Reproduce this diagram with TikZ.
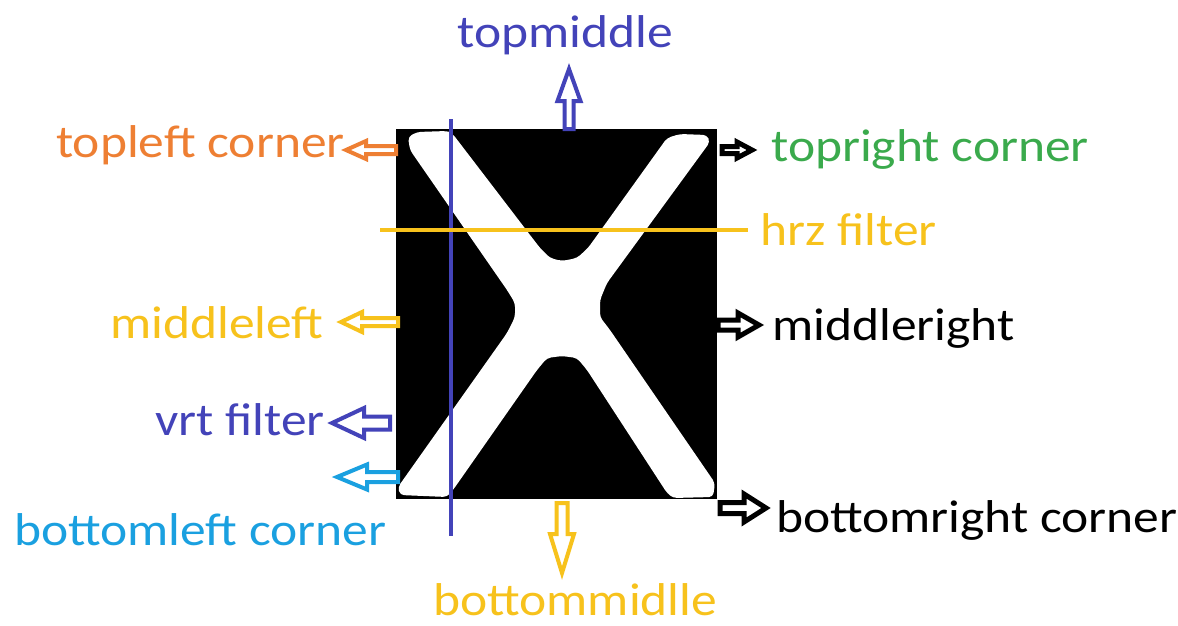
\documentclass[tikz,border=0pt]{standalone}
\usepackage{graphicx}
\usepackage{fontspec}
\setmainfont{Carlito}
\definecolor{cblue}{HTML}{4343B9}
\definecolor{corange}{HTML}{EE7F33}
\definecolor{cgreen}{HTML}{3AAA4C}
\definecolor{cyellow}{HTML}{F7C21C}
\definecolor{ccyan}{HTML}{1AA0E0}
\newcommand{\barr}[8]{%
\draw[#1, line width=#2, fill=white, line join=miter, shift={(#3)}, rotate=#4]
 (0,-#8) -- ({#5-#6},-#8) -- ({#5-#6},-#7) -- (#5,0) -- ({#5-#6},#7) -- ({#5-#6},#8) -- (0,#8) -- cycle;}
\newcommand{\wtxt}[1]{\scalebox{1.12}[1]{#1}}
\begin{document}
\begin{tikzpicture}[x=1pt,y=-1pt,
  lbl/.style={anchor=base west, inner sep=0pt, font=\fontsize{46}{50}\selectfont}]
\useasboundingbox[fill=white] (0,0) rectangle (1178,626);
% image
\fill[black] (396,129) rectangle (717,499);
\fill[white, rounded corners=4pt]
 (408,137) -- (417,132) -- (447,131) -- (452,133) -- (540,248) -- (550,258) -- (562,261)
 -- (577,258) -- (588,248) -- (667,138) -- (680,134) -- (707,135) -- (710,142)
 -- (607,283) -- (600,300) -- (600,317) -- (610,330) -- (715,483) -- (713,497)
 -- (673,498) -- (667,493) -- (587,370) -- (577,358) -- (562,356) -- (547,358)
 -- (537,370) -- (453,490) -- (447,497) -- (400,495) -- (398,487) -- (507,333)
 -- (515,317) -- (515,303) -- (507,290) -- (410,150) -- cycle;
% filters
\coordinate (vt) at (451,119);
\coordinate (vb) at (451,536);
\coordinate (hl) at (380,230);
\coordinate (hr) at (748,230);
\draw[cblue, line width=3.5pt] (vt) -- (vb);
\draw[cyellow, line width=4pt] (hl) -- (hr);
% arrows
\barr{corange}{4pt}{396,150}{180}{50}{20}{9}{4}
\barr{black}{5pt}{722,150}{0}{30}{15}{8}{3.5}
\barr{cblue}{4pt}{569,129}{90}{60}{32}{11.5}{4.5}
\barr{cyellow}{4pt}{398,322}{180}{57}{21}{10}{4}
\barr{cblue}{4pt}{390,423}{180}{58}{32}{15}{6.5}
\barr{ccyan}{4pt}{398,477}{180}{61}{30}{12.5}{5}
\barr{cyellow}{4pt}{562,503}{270}{70}{39}{12}{5.5}
\barr{black}{5pt}{718,325}{0}{41}{21}{12}{5}
\barr{black}{5pt}{720,508}{0}{46}{22}{14}{5.5}
% labels
\node[lbl, text=cblue] (tm) at (457,48) {\wtxt{topmiddle}};
\node[lbl, text=corange] (tl) at (56,157) {\wtxt{topleft corner}};
\node[lbl, text=cgreen] (tr) at (771,161) {\wtxt{topright corner}};
\node[lbl, text=cyellow] (hz) at (760,245) {\wtxt{hrz filter}};
\node[lbl, text=cyellow] (ml) at (110,338) {\wtxt{middleleft}};
\node[lbl, text=black] (mr) at (772,340) {\wtxt{middleright}};
\node[lbl, text=cblue] (vf) at (155,435) {\wtxt{vrt filter}};
\node[lbl, text=ccyan] (bl) at (14,545) {\wtxt{bottomleft corner}};
\node[lbl, text=black] (br) at (776,532) {\wtxt{bottomright corner}};
\node[lbl, text=cyellow] (bm) at (433,615) {\wtxt{bottommidlle}};
\end{tikzpicture}
\end{document}
